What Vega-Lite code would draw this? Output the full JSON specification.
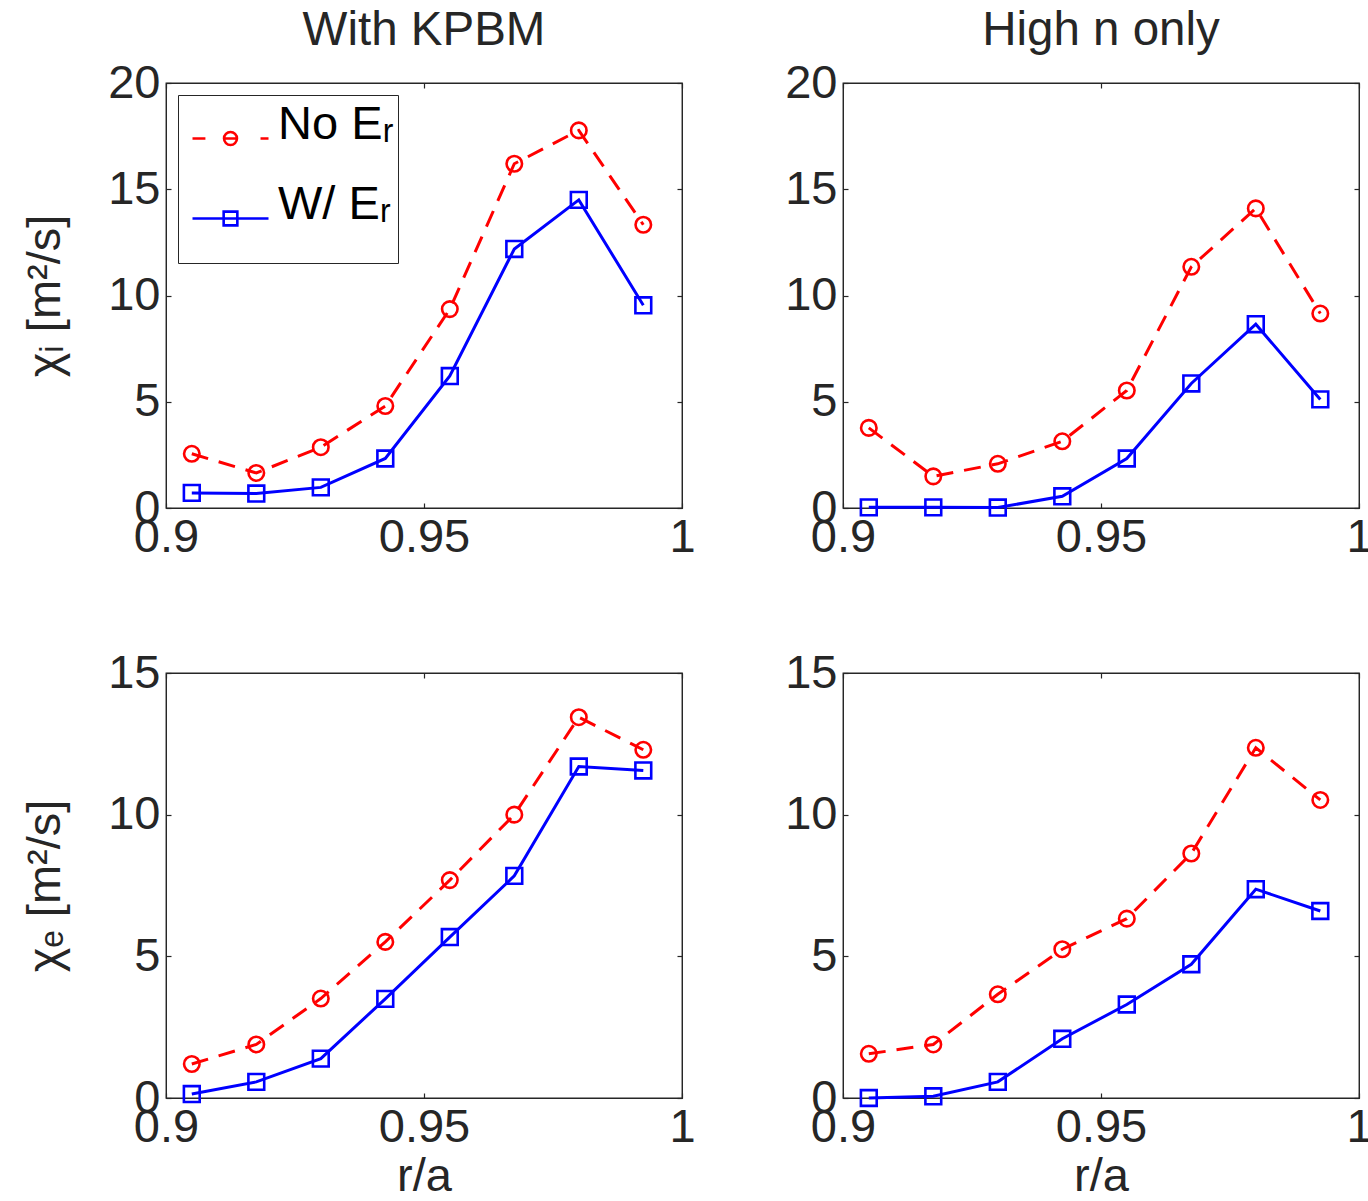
{
  "$schema": "https://vega.github.io/schema/vega-lite/v6.json",
  "padding": {"left": 21, "top": 5, "right": 2, "bottom": 2},
  "config": {
    "font": "Liberation Sans",
    "view": {"stroke": "#262626", "strokeWidth": 1.3},
    "axis": {"labelFontSize": 47, "titleFontSize": 47, "titleFontWeight": "normal", "labelColor": "#262626", "titleColor": "#262626", "domainColor": "#262626", "tickColor": "#262626", "tickSize": -5, "tickWidth": 1.2, "grid": false, "labelFont": "Liberation Sans", "titleFont": "Liberation Sans", "labelOverlap": false, "labelFlush": false},
    "axisX": {"labelPadding": 11},
    "axisY": {"labelPadding": 11},
    "title": {"fontSize": 47.5, "fontWeight": "normal", "color": "#262626", "font": "Liberation Sans", "offset": 5}
  },
  "datasets": {
    "chi": [
      {"p": "TL", "s": "No Eᵣ", "r": 0.905, "v": 2.55}, {"p": "TL", "s": "No Eᵣ", "r": 0.9175, "v": 1.65}, {"p": "TL", "s": "No Eᵣ", "r": 0.93, "v": 2.86}, {"p": "TL", "s": "No Eᵣ", "r": 0.9425, "v": 4.8}, {"p": "TL", "s": "No Eᵣ", "r": 0.955, "v": 9.36}, {"p": "TL", "s": "No Eᵣ", "r": 0.9675, "v": 16.2}, {"p": "TL", "s": "No Eᵣ", "r": 0.98, "v": 17.77}, {"p": "TL", "s": "No Eᵣ", "r": 0.9925, "v": 13.33},
      {"p": "TL", "s": "W/ Eᵣ", "r": 0.905, "v": 0.71}, {"p": "TL", "s": "W/ Eᵣ", "r": 0.9175, "v": 0.68}, {"p": "TL", "s": "W/ Eᵣ", "r": 0.93, "v": 0.97}, {"p": "TL", "s": "W/ Eᵣ", "r": 0.9425, "v": 2.33}, {"p": "TL", "s": "W/ Eᵣ", "r": 0.955, "v": 6.21}, {"p": "TL", "s": "W/ Eᵣ", "r": 0.9675, "v": 12.19}, {"p": "TL", "s": "W/ Eᵣ", "r": 0.98, "v": 14.5}, {"p": "TL", "s": "W/ Eᵣ", "r": 0.9925, "v": 9.54},
      {"p": "TR", "s": "No Eᵣ", "r": 0.905, "v": 3.77}, {"p": "TR", "s": "No Eᵣ", "r": 0.9175, "v": 1.49}, {"p": "TR", "s": "No Eᵣ", "r": 0.93, "v": 2.08}, {"p": "TR", "s": "No Eᵣ", "r": 0.9425, "v": 3.14}, {"p": "TR", "s": "No Eᵣ", "r": 0.955, "v": 5.53}, {"p": "TR", "s": "No Eᵣ", "r": 0.9675, "v": 11.35}, {"p": "TR", "s": "No Eᵣ", "r": 0.98, "v": 14.1}, {"p": "TR", "s": "No Eᵣ", "r": 0.9925, "v": 9.15},
      {"p": "TR", "s": "W/ Eᵣ", "r": 0.905, "v": 0.03}, {"p": "TR", "s": "W/ Eᵣ", "r": 0.9175, "v": 0.03}, {"p": "TR", "s": "W/ Eᵣ", "r": 0.93, "v": 0.02}, {"p": "TR", "s": "W/ Eᵣ", "r": 0.9425, "v": 0.55}, {"p": "TR", "s": "W/ Eᵣ", "r": 0.955, "v": 2.33}, {"p": "TR", "s": "W/ Eᵣ", "r": 0.9675, "v": 5.86}, {"p": "TR", "s": "W/ Eᵣ", "r": 0.98, "v": 8.65}, {"p": "TR", "s": "W/ Eᵣ", "r": 0.9925, "v": 5.11},
      {"p": "BL", "s": "No Eᵣ", "r": 0.905, "v": 1.2}, {"p": "BL", "s": "No Eᵣ", "r": 0.9175, "v": 1.89}, {"p": "BL", "s": "No Eᵣ", "r": 0.93, "v": 3.51}, {"p": "BL", "s": "No Eᵣ", "r": 0.9425, "v": 5.51}, {"p": "BL", "s": "No Eᵣ", "r": 0.955, "v": 7.69}, {"p": "BL", "s": "No Eᵣ", "r": 0.9675, "v": 10.0}, {"p": "BL", "s": "No Eᵣ", "r": 0.98, "v": 13.44}, {"p": "BL", "s": "No Eᵣ", "r": 0.9925, "v": 12.29},
      {"p": "BL", "s": "W/ Eᵣ", "r": 0.905, "v": 0.14}, {"p": "BL", "s": "W/ Eᵣ", "r": 0.9175, "v": 0.57}, {"p": "BL", "s": "W/ Eᵣ", "r": 0.93, "v": 1.39}, {"p": "BL", "s": "W/ Eᵣ", "r": 0.9425, "v": 3.5}, {"p": "BL", "s": "W/ Eᵣ", "r": 0.955, "v": 5.68}, {"p": "BL", "s": "W/ Eᵣ", "r": 0.9675, "v": 7.84}, {"p": "BL", "s": "W/ Eᵣ", "r": 0.98, "v": 11.7}, {"p": "BL", "s": "W/ Eᵣ", "r": 0.9925, "v": 11.56},
      {"p": "BR", "s": "No Eᵣ", "r": 0.905, "v": 1.56}, {"p": "BR", "s": "No Eᵣ", "r": 0.9175, "v": 1.89}, {"p": "BR", "s": "No Eᵣ", "r": 0.93, "v": 3.66}, {"p": "BR", "s": "No Eᵣ", "r": 0.9425, "v": 5.25}, {"p": "BR", "s": "No Eᵣ", "r": 0.955, "v": 6.33}, {"p": "BR", "s": "No Eᵣ", "r": 0.9675, "v": 8.63}, {"p": "BR", "s": "No Eᵣ", "r": 0.98, "v": 12.36}, {"p": "BR", "s": "No Eᵣ", "r": 0.9925, "v": 10.52},
      {"p": "BR", "s": "W/ Eᵣ", "r": 0.905, "v": 0.0}, {"p": "BR", "s": "W/ Eᵣ", "r": 0.9175, "v": 0.06}, {"p": "BR", "s": "W/ Eᵣ", "r": 0.93, "v": 0.57}, {"p": "BR", "s": "W/ Eᵣ", "r": 0.9425, "v": 2.09}, {"p": "BR", "s": "W/ Eᵣ", "r": 0.955, "v": 3.3}, {"p": "BR", "s": "W/ Eᵣ", "r": 0.9675, "v": 4.72}, {"p": "BR", "s": "W/ Eᵣ", "r": 0.98, "v": 7.37}, {"p": "BR", "s": "W/ Eᵣ", "r": 0.9925, "v": 6.6}
    ]
  },
  "data": {"name": "chi"},
  "resolve": {"scale": {"color": "independent", "shape": "independent"}},
  "spacing": 87,
  "vconcat": [
    {
      "hconcat": [
        {
          "width": 516, "height": 425,
          "title": {"text": "With KPBM"},
          "transform": [{"filter": "datum.p == 'TL'"}],
          "resolve": {"axis": {"x": "independent", "y": "independent"}},
          "layer": [
            {
              "transform": [{"filter": "datum.s == 'No Eᵣ'"}],
              "mark": {"type": "line", "strokeWidth": 3, "color": "#ff0000", "strokeDash": [17, 11]},
              "encoding": {
                "x": {"field": "r", "type": "quantitative", "scale": {"domain": [0.9, 1], "nice": false}, "axis": {"values": [0.9, 0.95, 1], "format": "~g", "title": null}},
                "y": {"field": "v", "type": "quantitative", "scale": {"domain": [0, 20], "nice": false}, "axis": {"values": [0, 5, 10, 15, 20], "title": "χᵢ [m²/s]", "titlePadding": 38}}
              }
            },
            {
              "transform": [{"filter": "datum.s == 'No Eᵣ'"}],
              "mark": {"type": "point", "shape": "circle", "filled": false, "color": "#ff0000", "size": 240, "strokeWidth": 2.6, "opacity": 1},
              "encoding": {
                "x": {"field": "r", "type": "quantitative", "axis": {"orient": "top", "values": [0.9, 0.95, 1], "labels": false, "title": null}},
                "y": {"field": "v", "type": "quantitative", "axis": {"orient": "right", "values": [0, 5, 10, 15, 20], "labels": false, "title": null}}
              }
            },
            {
              "transform": [{"filter": "datum.s == 'W/ Eᵣ'"}],
              "mark": {"type": "line", "strokeWidth": 3, "color": "#0000ff"},
              "encoding": {
                "x": {"field": "r", "type": "quantitative", "axis": null},
                "y": {"field": "v", "type": "quantitative", "axis": null}
              }
            },
            {
              "transform": [{"filter": "datum.s == 'W/ Eᵣ'"}],
              "mark": {"type": "point", "shape": "square", "filled": false, "color": "#0000ff", "size": 250, "strokeWidth": 2.6, "opacity": 1},
              "encoding": {
                "x": {"field": "r", "type": "quantitative", "axis": null},
                "y": {"field": "v", "type": "quantitative", "axis": null}
              }
            },
            {
              "mark": {"type": "point", "filled": false, "strokeWidth": 2.6, "opacity": 0},
              "encoding": {
                "x": {"field": "r", "type": "quantitative", "axis": null},
                "y": {"field": "v", "type": "quantitative", "axis": null},
                "color": {"field": "s", "type": "nominal", "scale": {"domain": ["No Eᵣ", "W/ Eᵣ"], "range": ["#ff0000", "#0000ff"]}, "legend": {"orient": "top-left", "offset": 12, "title": null, "labelFontSize": 47, "labelFont": "Liberation Sans", "labelColor": "#000000", "strokeColor": "#262626", "fillColor": "#ffffff", "padding": 4, "symbolOffset": 9, "symbolSize": 5776, "symbolStrokeWidth": 2.6, "labelOffset": 8, "rowPadding": -4, "labelBaseline": "alphabetic", "symbolOpacity": 1}},
                "shape": {"field": "s", "type": "nominal", "scale": {"domain": ["No Eᵣ", "W/ Eᵣ"], "range": ["M-1,0H-0.66M-0.17,0H0.17M0.79,0H1M0.17,0A0.17,0.17,0,1,1,-0.17,0A0.17,0.17,0,1,1,0.17,0M0,0.92", "M-1,0H1M-0.18,-0.18H0.18V0.18H-0.18ZM0,0.92"]}, "legend": {"orient": "top-left", "offset": 12, "title": null, "labelFontSize": 47, "labelFont": "Liberation Sans", "labelColor": "#000000", "strokeColor": "#262626", "fillColor": "#ffffff", "padding": 4, "symbolOffset": 9, "symbolSize": 5776, "symbolStrokeWidth": 2.6, "labelOffset": 8, "rowPadding": -4, "labelBaseline": "alphabetic", "symbolOpacity": 1}}
              }
            }
          ]
        },
        {
          "width": 516, "height": 425,
          "title": {"text": "High n only"},
          "transform": [{"filter": "datum.p == 'TR'"}],
          "resolve": {"axis": {"x": "independent", "y": "independent"}},
          "layer": [
            {
              "transform": [{"filter": "datum.s == 'No Eᵣ'"}],
              "mark": {"type": "line", "strokeWidth": 3, "color": "#ff0000", "strokeDash": [17, 11]},
              "encoding": {
                "x": {"field": "r", "type": "quantitative", "scale": {"domain": [0.9, 1], "nice": false}, "axis": {"values": [0.9, 0.95, 1], "format": "~g", "title": null}},
                "y": {"field": "v", "type": "quantitative", "scale": {"domain": [0, 20], "nice": false}, "axis": {"values": [0, 5, 10, 15, 20], "title": null}}
              }
            },
            {
              "transform": [{"filter": "datum.s == 'No Eᵣ'"}],
              "mark": {"type": "point", "shape": "circle", "filled": false, "color": "#ff0000", "size": 240, "strokeWidth": 2.6, "opacity": 1},
              "encoding": {
                "x": {"field": "r", "type": "quantitative", "axis": {"orient": "top", "values": [0.9, 0.95, 1], "labels": false, "title": null}},
                "y": {"field": "v", "type": "quantitative", "axis": {"orient": "right", "values": [0, 5, 10, 15, 20], "labels": false, "title": null}}
              }
            },
            {
              "transform": [{"filter": "datum.s == 'W/ Eᵣ'"}],
              "mark": {"type": "line", "strokeWidth": 3, "color": "#0000ff"},
              "encoding": {
                "x": {"field": "r", "type": "quantitative", "axis": null},
                "y": {"field": "v", "type": "quantitative", "axis": null}
              }
            },
            {
              "transform": [{"filter": "datum.s == 'W/ Eᵣ'"}],
              "mark": {"type": "point", "shape": "square", "filled": false, "color": "#0000ff", "size": 250, "strokeWidth": 2.6, "opacity": 1},
              "encoding": {
                "x": {"field": "r", "type": "quantitative", "axis": null},
                "y": {"field": "v", "type": "quantitative", "axis": null}
              }
            }
          ]
        }
      ],
      "spacing": 88,
      "resolve": {"scale": {"color": "independent", "shape": "independent"}}
    },
    {
      "hconcat": [
        {
          "width": 516, "height": 425,
          "transform": [{"filter": "datum.p == 'BL'"}],
          "resolve": {"axis": {"x": "independent", "y": "independent"}},
          "layer": [
            {
              "transform": [{"filter": "datum.s == 'No Eᵣ'"}],
              "mark": {"type": "line", "strokeWidth": 3, "color": "#ff0000", "strokeDash": [17, 11]},
              "encoding": {
                "x": {"field": "r", "type": "quantitative", "scale": {"domain": [0.9, 1], "nice": false}, "axis": {"values": [0.9, 0.95, 1], "format": "~g", "title": "r/a", "titlePadding": 3}},
                "y": {"field": "v", "type": "quantitative", "scale": {"domain": [0, 15], "nice": false}, "axis": {"values": [0, 5, 10, 15], "title": "χₑ [m²/s]", "titlePadding": 38}}
              }
            },
            {
              "transform": [{"filter": "datum.s == 'No Eᵣ'"}],
              "mark": {"type": "point", "shape": "circle", "filled": false, "color": "#ff0000", "size": 240, "strokeWidth": 2.6, "opacity": 1},
              "encoding": {
                "x": {"field": "r", "type": "quantitative", "axis": {"orient": "top", "values": [0.9, 0.95, 1], "labels": false, "title": null}},
                "y": {"field": "v", "type": "quantitative", "axis": {"orient": "right", "values": [0, 5, 10, 15], "labels": false, "title": null}}
              }
            },
            {
              "transform": [{"filter": "datum.s == 'W/ Eᵣ'"}],
              "mark": {"type": "line", "strokeWidth": 3, "color": "#0000ff"},
              "encoding": {
                "x": {"field": "r", "type": "quantitative", "axis": null},
                "y": {"field": "v", "type": "quantitative", "axis": null}
              }
            },
            {
              "transform": [{"filter": "datum.s == 'W/ Eᵣ'"}],
              "mark": {"type": "point", "shape": "square", "filled": false, "color": "#0000ff", "size": 250, "strokeWidth": 2.6, "opacity": 1},
              "encoding": {
                "x": {"field": "r", "type": "quantitative", "axis": null},
                "y": {"field": "v", "type": "quantitative", "axis": null}
              }
            }
          ]
        },
        {
          "width": 516, "height": 425,
          "transform": [{"filter": "datum.p == 'BR'"}],
          "resolve": {"axis": {"x": "independent", "y": "independent"}},
          "layer": [
            {
              "transform": [{"filter": "datum.s == 'No Eᵣ'"}],
              "mark": {"type": "line", "strokeWidth": 3, "color": "#ff0000", "strokeDash": [17, 11]},
              "encoding": {
                "x": {"field": "r", "type": "quantitative", "scale": {"domain": [0.9, 1], "nice": false}, "axis": {"values": [0.9, 0.95, 1], "format": "~g", "title": "r/a", "titlePadding": 3}},
                "y": {"field": "v", "type": "quantitative", "scale": {"domain": [0, 15], "nice": false}, "axis": {"values": [0, 5, 10, 15], "title": null}}
              }
            },
            {
              "transform": [{"filter": "datum.s == 'No Eᵣ'"}],
              "mark": {"type": "point", "shape": "circle", "filled": false, "color": "#ff0000", "size": 240, "strokeWidth": 2.6, "opacity": 1},
              "encoding": {
                "x": {"field": "r", "type": "quantitative", "axis": {"orient": "top", "values": [0.9, 0.95, 1], "labels": false, "title": null}},
                "y": {"field": "v", "type": "quantitative", "axis": {"orient": "right", "values": [0, 5, 10, 15], "labels": false, "title": null}}
              }
            },
            {
              "transform": [{"filter": "datum.s == 'W/ Eᵣ'"}],
              "mark": {"type": "line", "strokeWidth": 3, "color": "#0000ff"},
              "encoding": {
                "x": {"field": "r", "type": "quantitative", "axis": null},
                "y": {"field": "v", "type": "quantitative", "axis": null}
              }
            },
            {
              "transform": [{"filter": "datum.s == 'W/ Eᵣ'"}],
              "mark": {"type": "point", "shape": "square", "filled": false, "color": "#0000ff", "size": 250, "strokeWidth": 2.6, "opacity": 1},
              "encoding": {
                "x": {"field": "r", "type": "quantitative", "axis": null},
                "y": {"field": "v", "type": "quantitative", "axis": null}
              }
            }
          ]
        }
      ],
      "spacing": 88,
      "resolve": {"scale": {"color": "independent", "shape": "independent"}}
    }
  ]
}
